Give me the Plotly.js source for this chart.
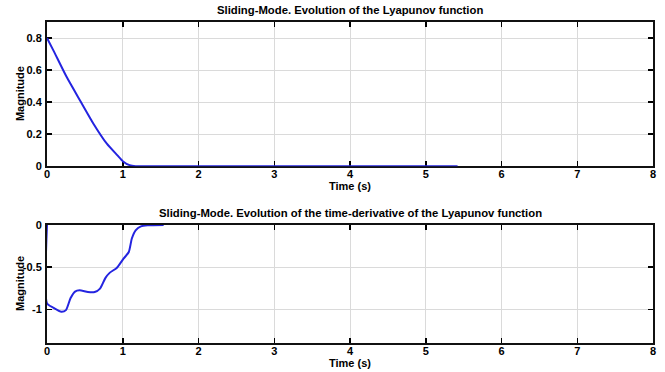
<!DOCTYPE html>
<html>
<head>
<meta charset="utf-8">
<script src="https://cdn.plot.ly/plotly-3.0.1.min.js"></script>
<style>
  html, body { margin: 0; padding: 0; background: #fff; }
  #chart { width: 665px; height: 372px; }
</style>
</head>
<body>
<div id="chart"></div>
<script>
// Lyapunov function V(t) under sliding-mode control
const timeV = [0, 0.084, 0.26, 0.436, 0.613, 0.79, 0.93, 1.0, 1.09, 1.17, 1.5, 2.5, 3.5, 4.5, 5.42];
const valueV = [0.8, 0.723, 0.556, 0.41, 0.265, 0.14, 0.067, 0.031, 0.006, 0, 0, 0, 0, 0, 0];

// Time-derivative dV/dt
const timeDV = [0, 0, 0.08, 0.19, 0.25, 0.31, 0.37, 0.43, 0.54, 0.63, 0.70, 0.77, 0.83, 0.92, 1.01, 1.08, 1.12, 1.17, 1.24, 1.33, 1.54];
const valueDV = [0, -0.93, -0.98, -1.03, -1.01, -0.87, -0.79, -0.775, -0.795, -0.795, -0.755, -0.63, -0.565, -0.51, -0.40, -0.32, -0.16, -0.063, -0.016, -0.004, 0];

const xTicks = [0, 1, 2, 3, 4, 5, 6, 7, 8];
const yTicksTop = [0, 0.2, 0.4, 0.6, 0.8];
const yTicksBottom = [-1, -0.5, 0];

const titleTop = 'Sliding-Mode. Evolution of the Lyapunov function';
const titleBottom = 'Sliding-Mode. Evolution of the time-derivative of the Lyapunov function';
const xLabel = 'Time (s)';
const yLabel = 'Magnitude';

const FONT = 'Liberation Sans, Arial, sans-serif';
const lineColor = '#2424e0';
const titleFont = { family: FONT, size: 11.3, color: '#000', weight: 'bold' };
const labelFont = { family: FONT, size: 11, color: '#000', weight: 'bold' };

const traces = [
  { x: timeV, y: valueV, type: 'scatter', mode: 'lines', xaxis: 'x', yaxis: 'y', cliponaxis: false,
    line: { color: lineColor, width: 2, shape: 'spline', smoothing: 0.6 }, hoverinfo: 'skip' },
  { x: timeDV, y: valueDV, type: 'scatter', mode: 'lines', xaxis: 'x2', yaxis: 'y2', cliponaxis: false,
    line: { color: lineColor, width: 2, shape: 'spline', smoothing: 0.6 }, hoverinfo: 'skip' }
];

function xAxis(anchor) {
  return {
    anchor: anchor, domain: [0, 1], range: [0, 8],
    tickvals: xTicks, ticktext: xTicks.map(String),
    ticks: 'inside', ticklen: 5, tickwidth: 1.5, tickcolor: '#000',
    showline: true, linecolor: '#111', linewidth: 2, mirror: 'ticks',
    showgrid: true, gridcolor: '#dadada', gridwidth: 1,
    zeroline: false, layer: 'below traces',
    tickfont: { family: FONT, size: 11, color: '#000', weight: 'bold' },
    ticklabelstandoff: -3
  };
}
function yAxis(anchor, dom, rng, ticks) {
  return {
    anchor: anchor, domain: dom, range: rng,
    tickvals: ticks, ticktext: ticks.map(String),
    ticks: 'inside', ticklen: 5, tickwidth: 1.5, tickcolor: '#000',
    showline: true, linecolor: '#111', linewidth: 2, mirror: 'ticks',
    showgrid: true, gridcolor: '#dadada', gridwidth: 1,
    zeroline: false, layer: 'below traces',
    tickfont: { family: FONT, size: 11, color: '#000', weight: 'bold' },
    ticklabelstandoff: 1
  };
}

function label(text, x, y, font, opts) {
  return Object.assign({
    text: text, xref: 'paper', yref: 'paper', x: x, y: y,
    xanchor: 'center', yanchor: 'middle', showarrow: false, font: font
  }, opts || {});
}

const topDomain = [0.551, 1];
const bottomDomain = [0, 0.3676];

const layout = {
  width: 665, height: 372,
  margin: { l: 47, r: 12, t: 22, b: 29 },
  paper_bgcolor: '#fff', plot_bgcolor: '#fff',
  showlegend: false,
  xaxis: xAxis('y'),
  yaxis: yAxis('x', topDomain, [0, 0.9], yTicksTop),
  xaxis2: xAxis('y2'),
  yaxis2: yAxis('x2', bottomDomain, [-1.4, 0], yTicksBottom),
  annotations: [
    label(titleTop, 0.5, topDomain[1], titleFont, { yshift: 12 }),
    label(titleBottom, 0.5, bottomDomain[1], titleFont, { yshift: 12 }),
    label(xLabel, 0.5, topDomain[0], labelFont, { yshift: -20 }),
    label(xLabel, 0.5, bottomDomain[0], labelFont, { yshift: -20 }),
    label(yLabel, 0, (topDomain[0] + topDomain[1]) / 2, labelFont, { xshift: -27, textangle: -90 }),
    label(yLabel, 0, (bottomDomain[0] + bottomDomain[1]) / 2, labelFont, { xshift: -27, textangle: -90 })
  ]
};

Plotly.newPlot('chart', traces, layout, { staticPlot: true, displayModeBar: false });
</script>
</body>
</html>
